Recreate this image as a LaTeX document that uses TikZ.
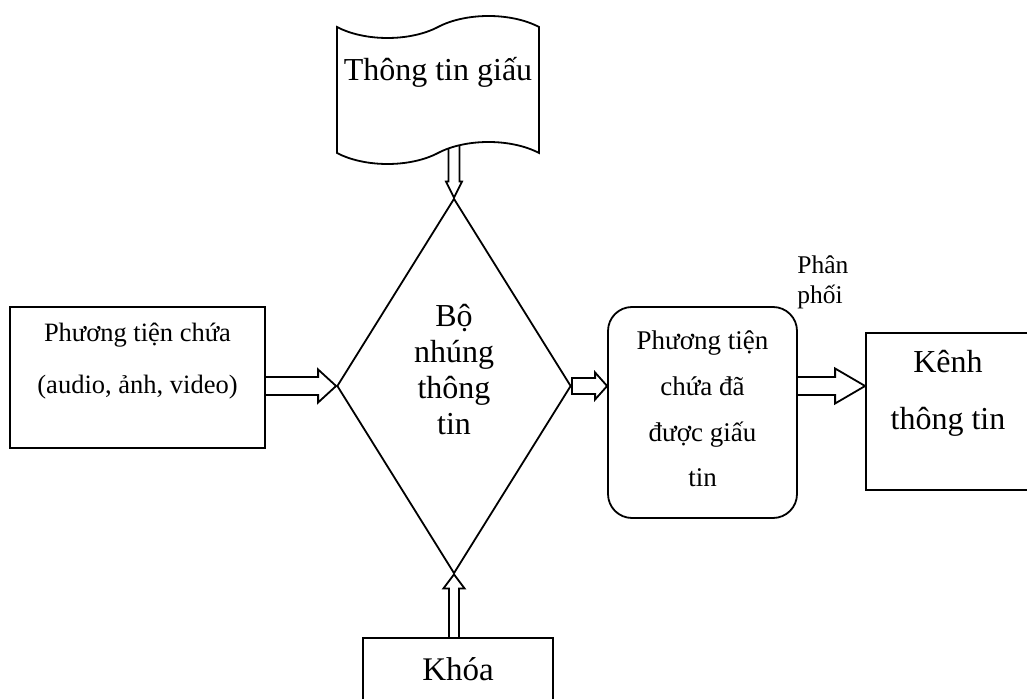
\documentclass[tikz,border=0pt]{standalone}
\usepackage{fontspec}
\setmainfont{Liberation Serif}
\usetikzlibrary{calc,backgrounds,shapes.geometric,shapes.symbols}
\tikzset{
stegobox/.style={draw, line width=0.9pt, fill=white, rectangle, inner sep=0pt, align=center},
stegoround/.style={stegobox, rounded corners=12pt},
stegodiamond/.style={draw, line width=0.9pt, fill=white, diamond, aspect=0.62, inner sep=0pt, align=center},
stegotape/.style={draw, line width=0.9pt, fill=white, tape, tape bend height=11pt, inner sep=0pt, align=center},
stegoarrow/.style={draw, line width=0.9pt, fill=white, line join=miter}
}
% hollow block arrow: from, to, shaft half width, head half width, head length
\newcommand{\hollowarrow}[5]{%
  \coordinate (hb) at ($(#2)!#5!(#1)$);
  \draw[stegoarrow] ($(#1)!#3!90:(#2)$) -- ($(hb)!#3!90:(#2)$) -- ($(hb)!#4!90:(#2)$) -- (#2)
    -- ($(hb)!#4!-90:(#2)$) -- ($(hb)!#3!-90:(#2)$) -- ($(#1)!#3!-90:(#2)$) -- cycle;
}

\begin{document}
\begin{tikzpicture}[x=0.5pt, y=-0.5pt]
  \useasboundingbox (0,0) rectangle (1027,699);
  \clip (0,0) rectangle (1027,699);
  \node[stegotape, minimum width=101pt, minimum height=74pt, text height=12pt, text depth=21pt,
        font={\fontsize{16pt}{18pt}\selectfont}] (secret) at (438,90) {Thông tin giấu};
  \node[stegobox, minimum width=127.5pt, minimum height=70.5pt, text height=43.5pt, text depth=27pt,
        font={\fontsize{13.25pt}{26pt}\selectfont}] (host) at (137.5,377.5) {Phương tiện chứa\\(audio, ảnh, video)};
  \node[stegodiamond, minimum width=117pt, minimum height=187.5pt, text height=54pt, text depth=5pt,
        font={\fontsize{16pt}{18pt}\selectfont}] (embed) at (454,386) {Bộ\\nhúng\\thông\\tin};
  \node[stegoround, minimum width=94.5pt, minimum height=105.5pt, text height=90pt, text depth=15.5pt,
        font={\fontsize{13.5pt}{22.85pt}\selectfont}] (stego) at (702.5,412.5) {Phương tiện\\chứa đã\\được giấu\\tin};
  \node[stegobox, minimum width=82pt, minimum height=78.5pt, text height=48.5pt, text depth=30pt,
        font={\fontsize{16pt}{28.5pt}\selectfont}] (channel) at (948,411.5) {Kênh\\thông tin};
  \node[stegobox, minimum width=95pt, minimum height=32pt, text height=21pt, text depth=11pt,
        font={\fontsize{16.5pt}{18pt}\selectfont}] (key) at (458,670) {Khóa};
  \node[anchor=north west, inner sep=0pt, align=left, text height=24pt,
        font={\fontsize{12.75pt}{15pt}\selectfont}] (dist) at (797,255) {Phân\\phối};
  \coordinate (a0) at (embed.north |- secret.center);
  \coordinate (a1) at (host.center |- embed.west);
  \coordinate (a2) at (stego.west |- embed.east);
  \coordinate (a3) at (stego.center |- embed.east);
  \coordinate (a4) at (channel.west |- embed.east);
  \coordinate (a5) at (embed.south |- key.center);
  \begin{scope}[on background layer]
    \hollowarrow{a0}{embed.north}{2.75pt}{4pt}{8pt}
    \hollowarrow{a1}{embed.west}{4.5pt}{8.25pt}{9pt}
    \hollowarrow{embed.east}{a2}{4pt}{6.75pt}{6pt}
    \hollowarrow{a3}{a4}{4.5pt}{8.75pt}{15pt}
    \hollowarrow{a5}{embed.south}{2.5pt}{5.25pt}{7pt}
  \end{scope}
\end{tikzpicture}
\end{document}
